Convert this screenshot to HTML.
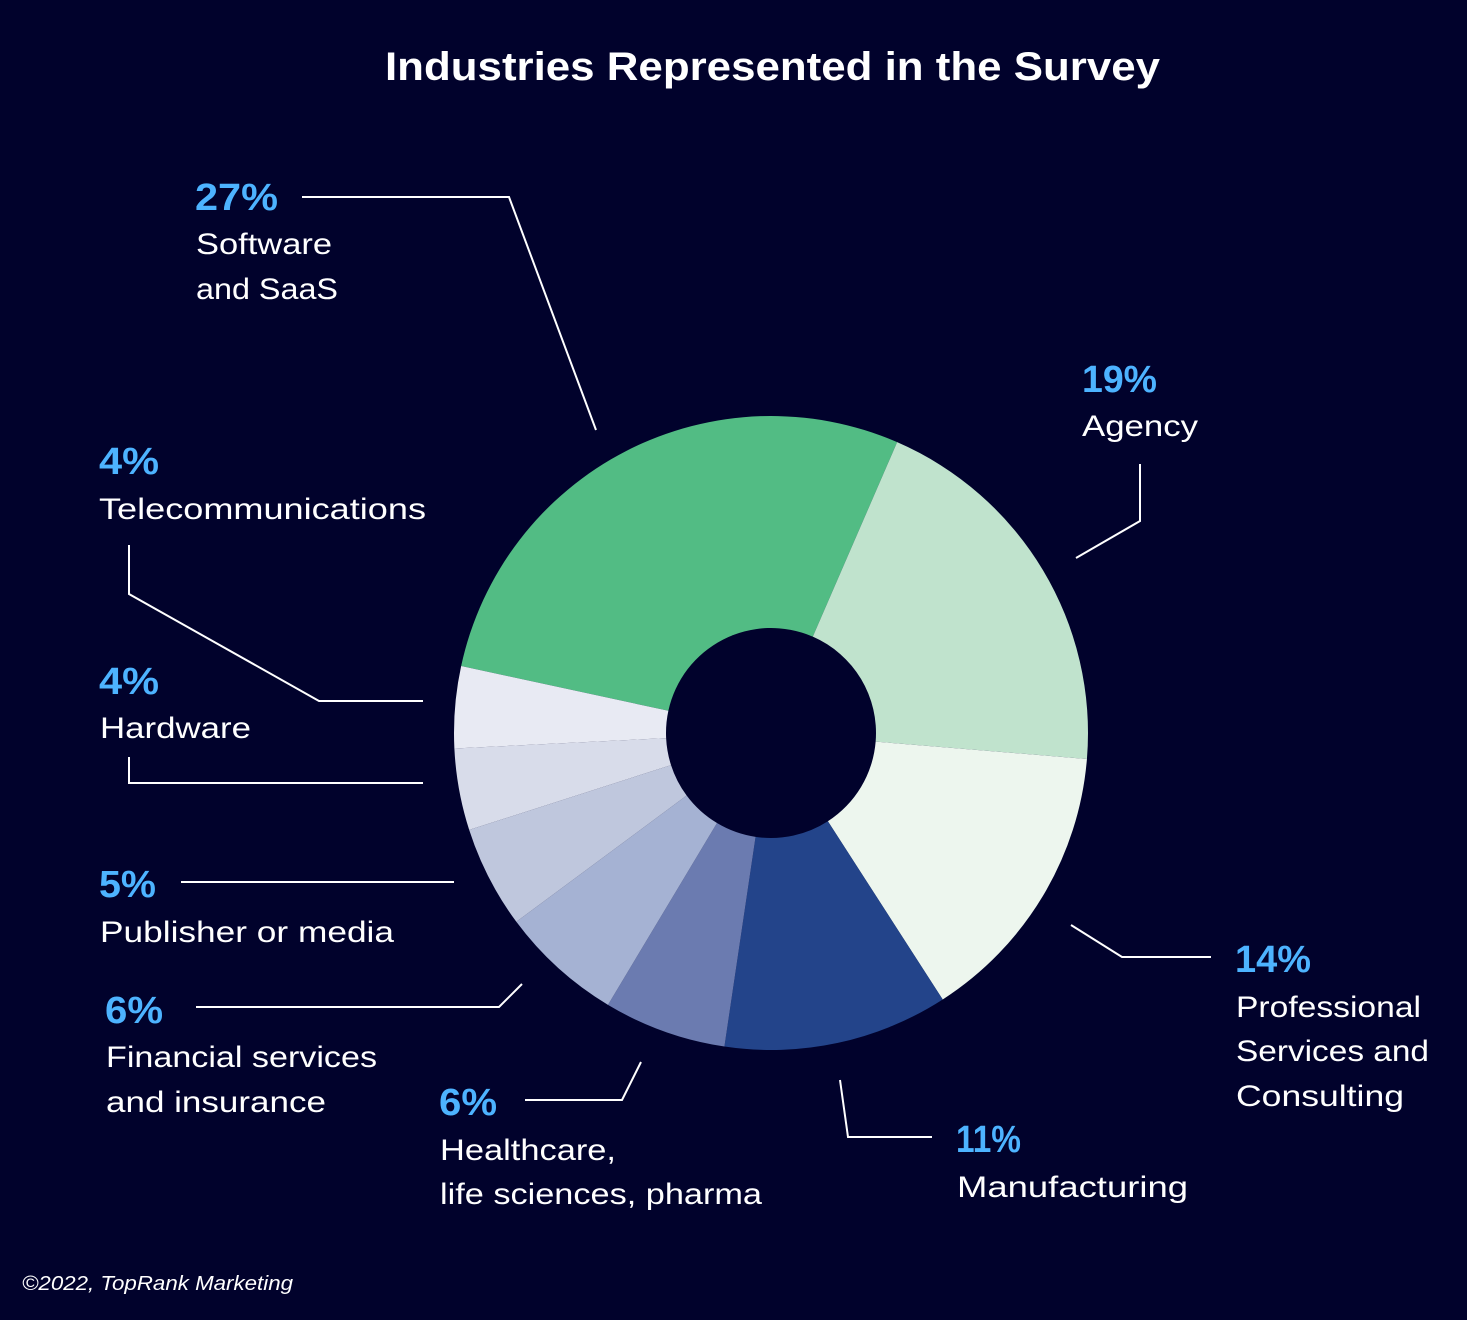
<!DOCTYPE html>
<html><head><meta charset="utf-8"><style>
html,body{margin:0;padding:0;background:#01022c;}
svg{display:block;font-family:"Liberation Sans",sans-serif;}
.pct{fill:#4db3ff;font-weight:bold;font-size:38px;}
.lbl{fill:#ffffff;font-size:30px;}
.ld{stroke:#fff;stroke-width:2;fill:none;}
</style></head><body>
<svg id="chart" width="1467" height="1320" viewBox="0 0 1467 1320">
<rect width="1467" height="1320" fill="#01022c"/>
<text x="385" y="80" textLength="775" lengthAdjust="spacingAndGlyphs" fill="#fff" font-size="40" font-weight="bold">Industries Represented in the Survey</text>
<g id="slices"></g>
<g>
<polyline class="ld" points="302,197 509,197 596,430"/>
<polyline class="ld" points="1140,464 1140,521 1076,558"/>
<polyline class="ld" points="1071,925 1122,957 1211,957"/>
<polyline class="ld" points="840,1080 848,1137 932,1137"/>
<polyline class="ld" points="641,1062 622,1100 525,1100"/>
<polyline class="ld" points="522,984 499,1007 196,1007"/>
<polyline class="ld" points="181,882 454,882"/>
<polyline class="ld" points="129,757 129,783 423,783"/>
<polyline class="ld" points="129,545 129,594 319,701 423,701"/>
</g>
<g>
<text class="pct" x="195" y="210" textLength="83" lengthAdjust="spacingAndGlyphs">27%</text>
<text class="lbl" x="196" y="254" textLength="136" lengthAdjust="spacingAndGlyphs">Software</text>
<text class="lbl" x="196" y="299" textLength="142" lengthAdjust="spacingAndGlyphs">and SaaS</text>
<text class="pct" x="1082" y="392" textLength="75" lengthAdjust="spacingAndGlyphs">19%</text>
<text class="lbl" x="1082" y="436" textLength="116" lengthAdjust="spacingAndGlyphs">Agency</text>
<text class="pct" x="99" y="474" textLength="60" lengthAdjust="spacingAndGlyphs">4%</text>
<text class="lbl" x="99" y="519" textLength="327" lengthAdjust="spacingAndGlyphs">Telecommunications</text>
<text class="pct" x="99" y="694" textLength="60" lengthAdjust="spacingAndGlyphs">4%</text>
<text class="lbl" x="100" y="738" textLength="151" lengthAdjust="spacingAndGlyphs">Hardware</text>
<text class="pct" x="99" y="897" textLength="57" lengthAdjust="spacingAndGlyphs">5%</text>
<text class="lbl" x="100" y="942" textLength="294" lengthAdjust="spacingAndGlyphs">Publisher or media</text>
<text class="pct" x="105" y="1023" textLength="58" lengthAdjust="spacingAndGlyphs">6%</text>
<text class="lbl" x="106" y="1067" textLength="271" lengthAdjust="spacingAndGlyphs">Financial services</text>
<text class="lbl" x="106" y="1112" textLength="220" lengthAdjust="spacingAndGlyphs">and insurance</text>
<text class="pct" x="439" y="1115" textLength="58" lengthAdjust="spacingAndGlyphs">6%</text>
<text class="lbl" x="440" y="1160" textLength="176" lengthAdjust="spacingAndGlyphs">Healthcare,</text>
<text class="lbl" x="440" y="1204" textLength="322" lengthAdjust="spacingAndGlyphs">life sciences, pharma</text>
<text class="pct" x="956" y="1152" textLength="65" lengthAdjust="spacingAndGlyphs">11%</text>
<text class="lbl" x="957" y="1197" textLength="231" lengthAdjust="spacingAndGlyphs">Manufacturing</text>
<text class="pct" x="1235" y="972" textLength="76" lengthAdjust="spacingAndGlyphs">14%</text>
<text class="lbl" x="1236" y="1017" textLength="185" lengthAdjust="spacingAndGlyphs">Professional</text>
<text class="lbl" x="1236" y="1061" textLength="193" lengthAdjust="spacingAndGlyphs">Services and</text>
<text class="lbl" x="1236" y="1106" textLength="168" lengthAdjust="spacingAndGlyphs">Consulting</text>
</g>
<text x="22" y="1290" textLength="271" lengthAdjust="spacingAndGlyphs" fill="#fff" font-size="20" font-style="italic">©2022, TopRank Marketing</text>
</svg>
<script>
const categories = ["Software and SaaS","Agency","Professional Services and Consulting","Manufacturing","Healthcare, life sciences, pharma","Financial services and insurance","Publisher or media","Hardware","Telecommunications"];
const values = [27,19,14,11,6,6,5,4,4];
const colors = ["#52bc84","#c0e3cd","#edf6ee","#23448a","#6b7bb0","#a5b2d3","#bfc7dd","#d8dcea","#e8eaf3"];
const cx=771, cy=733, R=317, r=105;
const total = values.reduce((a,b)=>a+b,0);
let ang = -77.8 * Math.PI/180;
const g = document.getElementById('slices');
function pt(a,rad){return [cx+rad*Math.sin(a), cy-rad*Math.cos(a)];}
values.forEach((v,i)=>{
  const span = v/total*2*Math.PI;
  const a0=ang, a1=ang+span;
  const p0=pt(a0,R), p1=pt(a1,R), q1=pt(a1,r), q0=pt(a0,r);
  const lg = span>Math.PI?1:0;
  const d=`M${p0[0]},${p0[1]} A${R},${R} 0 ${lg} 1 ${p1[0]},${p1[1]} L${q1[0]},${q1[1]} A${r},${r} 0 ${lg} 0 ${q0[0]},${q0[1]} Z`;
  const p=document.createElementNS('http://www.w3.org/2000/svg','path');
  p.setAttribute('d',d);
  p.setAttribute('fill',colors[i]);
  
  
  g.appendChild(p);
  ang=a1;
});
</script>
</body></html>
